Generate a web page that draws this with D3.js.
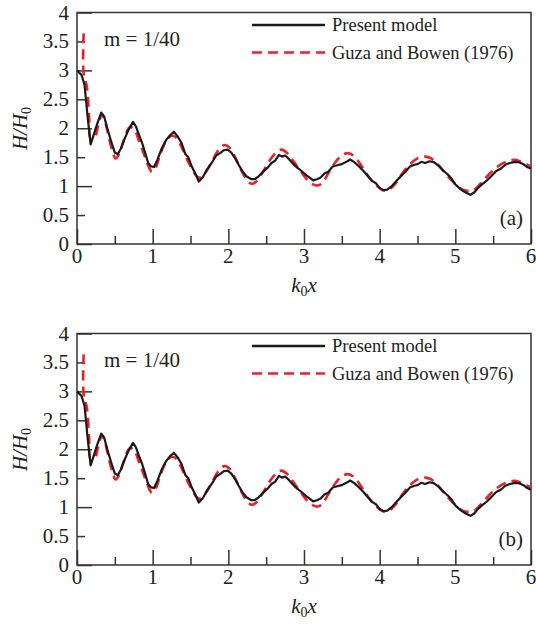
<!DOCTYPE html>
<meta charset="utf-8">
<style>
body { margin: 0; background: #fff; }
svg text { font-family: "Times New Roman", "Liberation Serif", Times, serif; fill: #222; }
</style>
<body>
<script src="https://cdn.jsdelivr.net/npm/d3@7"></script>
<script>

var presentModel = [
  [0.00,3.00],[0.06,2.92],[0.10,2.75],[0.14,2.20],[0.18,1.72],[0.22,1.88],[0.26,2.05],
  [0.32,2.27],[0.36,2.20],[0.40,2.00],[0.45,1.78],[0.50,1.58],[0.54,1.55],[0.58,1.65],
  [0.63,1.82],[0.68,1.97],[0.74,2.11],[0.78,2.03],[0.82,1.88],[0.86,1.75],[0.90,1.58],
  [0.94,1.40],[0.98,1.34],[1.02,1.33],[1.06,1.45],[1.12,1.65],[1.18,1.80],[1.23,1.88],
  [1.28,1.94],[1.33,1.86],[1.38,1.75],[1.43,1.56],[1.47,1.50],[1.52,1.33],[1.57,1.20],
  [1.61,1.08],[1.66,1.15],[1.72,1.29],[1.78,1.40],[1.84,1.53],[1.90,1.58],[1.94,1.62],
  [1.99,1.63],[2.04,1.58],[2.09,1.48],[2.14,1.36],[2.19,1.25],[2.24,1.17],[2.30,1.12],
  [2.35,1.12],[2.40,1.17],[2.46,1.25],[2.52,1.32],[2.57,1.40],[2.62,1.44],[2.67,1.54],
  [2.71,1.51],[2.75,1.53],[2.80,1.47],[2.86,1.38],[2.91,1.32],[2.96,1.27],[3.02,1.20],
  [3.07,1.15],[3.12,1.10],[3.17,1.12],[3.22,1.15],[3.27,1.22],[3.32,1.25],[3.38,1.34],
  [3.44,1.36],[3.50,1.38],[3.56,1.42],[3.61,1.46],[3.66,1.42],[3.72,1.35],[3.78,1.27],
  [3.84,1.18],[3.90,1.09],[3.95,1.05],[4.00,0.97],[4.05,0.93],[4.10,0.94],[4.16,1.00],
  [4.22,1.09],[4.28,1.17],[4.34,1.25],[4.40,1.34],[4.46,1.37],[4.50,1.38],[4.55,1.42],
  [4.60,1.40],[4.66,1.43],[4.72,1.41],[4.78,1.35],[4.84,1.27],[4.90,1.20],[4.95,1.13],
  [5.00,1.03],[5.05,0.97],[5.10,0.92],[5.15,0.88],[5.20,0.85],[5.25,0.89],[5.30,0.97],
  [5.36,1.04],[5.42,1.10],[5.48,1.18],[5.54,1.26],[5.60,1.30],[5.66,1.37],[5.72,1.40],
  [5.79,1.42],[5.85,1.41],[5.90,1.38],[5.95,1.33],[6.00,1.30]
];

var guzaBowen = [
  [0.088,3.64],[0.088,2.95],[0.13,2.72],[0.16,2.20],[0.18,1.83],[0.24,1.86],[0.28,2.05],
  [0.33,2.24],[0.37,2.12],[0.42,1.85],[0.47,1.60],[0.51,1.48],[0.56,1.56],[0.62,1.80],
  [0.70,2.02],[0.76,1.97],[0.82,1.78],[0.90,1.50],[0.96,1.30],[0.99,1.25],[1.04,1.32],
  [1.10,1.55],[1.18,1.78],[1.25,1.87],[1.31,1.84],[1.38,1.68],[1.46,1.45],[1.54,1.25],
  [1.59,1.16],[1.64,1.15],[1.72,1.28],[1.80,1.47],[1.88,1.64],[1.95,1.71],[2.02,1.66],
  [2.10,1.47],[2.18,1.25],[2.25,1.10],[2.31,1.04],[2.37,1.08],[2.45,1.23],[2.55,1.45],
  [2.63,1.58],[2.70,1.63],[2.77,1.58],[2.85,1.45],[2.95,1.27],[3.05,1.10],[3.12,1.03],
  [3.18,1.01],[3.24,1.05],[3.32,1.22],[3.42,1.42],[3.50,1.53],[3.58,1.57],[3.66,1.52],
  [3.75,1.37],[3.85,1.17],[3.95,1.02],[4.04,0.93],[4.11,0.93],[4.20,1.03],[4.30,1.22],
  [4.40,1.38],[4.50,1.48],[4.60,1.51],[4.68,1.48],[4.78,1.36],[4.88,1.20],[4.98,1.06],
  [5.08,0.95],[5.15,0.92],[5.24,0.93],[5.34,1.05],[5.45,1.21],[5.55,1.33],[5.65,1.41],
  [5.75,1.45],[5.81,1.45],[5.90,1.40],[6.00,1.34]
];

var xMajor = [0, 1, 2, 3, 4, 5, 6],
    xMinor = [0.5, 1.5, 2.5, 3.5, 4.5, 5.5],
    yMajor = [0, 1, 2, 3, 4],
    yMinor = [0.5, 1.5, 2.5, 3.5],
    yLabels = [0, 0.5, 1, 1.5, 2, 2.5, 3, 3.5, 4];

var seriesNames = ["Present model", "Guza and Bowen (1976)"],
    panelLabels = ["(a)", "(b)"],
    slopeText = "m = 1/40";

var w = 536, h = 626;

var svg = d3.select("body").append("svg")
    .attr("width", w)
    .attr("height", h);

var x = d3.scaleLinear().domain([0, 6]).range([77, 531]);

function drawPanel(top, label) {
  var y = d3.scaleLinear().domain([0, 4]).range([top + 231.5, top]);
  var g = svg.append("g");

  var line = d3.line()
      .x(function(d) { return x(d[0]); })
      .y(function(d) { return y(d[1]); });

  // inward ticks, labels drawn separately
  g.append("g")
      .attr("transform", "translate(0," + y(0) + ")")
      .call(d3.axisBottom(x).tickValues(xMajor).tickSize(-15))
      .call(styleAxis);
  g.append("g")
      .attr("transform", "translate(0," + y(0) + ")")
      .call(d3.axisBottom(x).tickValues(xMinor).tickSize(-8))
      .call(styleAxis);
  g.append("g")
      .attr("transform", "translate(" + x(0) + ",0)")
      .call(d3.axisLeft(y).tickValues(yMajor).tickSize(-15))
      .call(styleAxis);
  g.append("g")
      .attr("transform", "translate(" + x(0) + ",0)")
      .call(d3.axisLeft(y).tickValues(yMinor).tickSize(-8))
      .call(styleAxis);

  g.selectAll(".ylab")
    .data(yLabels)
    .enter().append("text")
      .attr("x", 69)
      .attr("y", function(d) { return y(d) + 7; })
      .attr("text-anchor", "end")
      .style("font-size", "21px")
      .text(function(d) { return d; });

  g.selectAll(".xlab")
    .data(xMajor)
    .enter().append("text")
      .attr("x", function(d) { return x(d); })
      .attr("y", y(0) + 19)
      .attr("text-anchor", "middle")
      .style("font-size", "21px")
      .text(function(d) { return d; });

  // frame
  g.append("rect")
      .attr("x", x(0))
      .attr("y", y(4))
      .attr("width", x(6) - x(0))
      .attr("height", y(0) - y(4))
      .attr("fill", "none")
      .attr("stroke", "#333")
      .attr("stroke-width", 1.5);

  g.append("path")
      .datum(guzaBowen)
      .attr("fill", "none")
      .attr("stroke", "#e8202a")
      .attr("stroke-width", 2.6)
      .attr("stroke-dasharray", "10,6")
      .attr("d", line.curve(d3.curveCatmullRom.alpha(0.5)));

  g.append("path")
      .datum(presentModel)
      .attr("fill", "none")
      .attr("stroke", "#1a1a1a")
      .attr("stroke-width", 2.2)
      .attr("stroke-linejoin", "round")
      .attr("d", line.curve(d3.curveLinear));

  // legend
  g.append("line")
      .attr("x1", 252).attr("x2", 325)
      .attr("y1", top + 12.5).attr("y2", top + 12.5)
      .attr("stroke", "#1a1a1a").attr("stroke-width", 2.4);
  g.append("line")
      .attr("x1", 252).attr("x2", 325)
      .attr("y1", top + 40).attr("y2", top + 40)
      .attr("stroke", "#e8202a").attr("stroke-width", 2.6)
      .attr("stroke-dasharray", "10,6");
  g.append("text")
      .attr("x", 332).attr("y", top + 18)
      .style("font-size", "18.5px")
      .text(seriesNames[0]);
  g.append("text")
      .attr("x", 332).attr("y", top + 46)
      .style("font-size", "18.5px")
      .text(seriesNames[1]);

  g.append("text")
      .attr("x", 104).attr("y", top + 33)
      .style("font-size", "21px")
      .text(slopeText);

  g.append("text")
      .attr("x", 523).attr("y", top + 212)
      .attr("text-anchor", "end")
      .style("font-size", "21px")
      .text(label);

  // axis titles
  var xt = g.append("text")
      .attr("x", 304).attr("y", top + 279)
      .attr("text-anchor", "middle")
      .style("font-size", "21px")
      .style("font-style", "italic");
  xt.append("tspan").text("k");
  xt.append("tspan").attr("dy", 4).style("font-size", "14px").style("font-style", "normal").text("0");
  xt.append("tspan").attr("dy", -4).text("x");

  var yt = g.append("text")
      .attr("transform", "translate(27," + (top + 116) + ") rotate(-90)")
      .attr("text-anchor", "middle")
      .style("font-size", "21px")
      .style("font-style", "italic");
  yt.append("tspan").text("H/H");
  yt.append("tspan").attr("dy", 4).style("font-size", "14px").style("font-style", "normal").text("0");
}

function styleAxis(sel) {
  sel.select(".domain").remove();
  sel.selectAll("line").attr("stroke", "#333").attr("stroke-width", 1.5);
  sel.selectAll("text").remove();
}

drawPanel(12.5, panelLabels[0]);
drawPanel(333.5, panelLabels[1]);

</script>
